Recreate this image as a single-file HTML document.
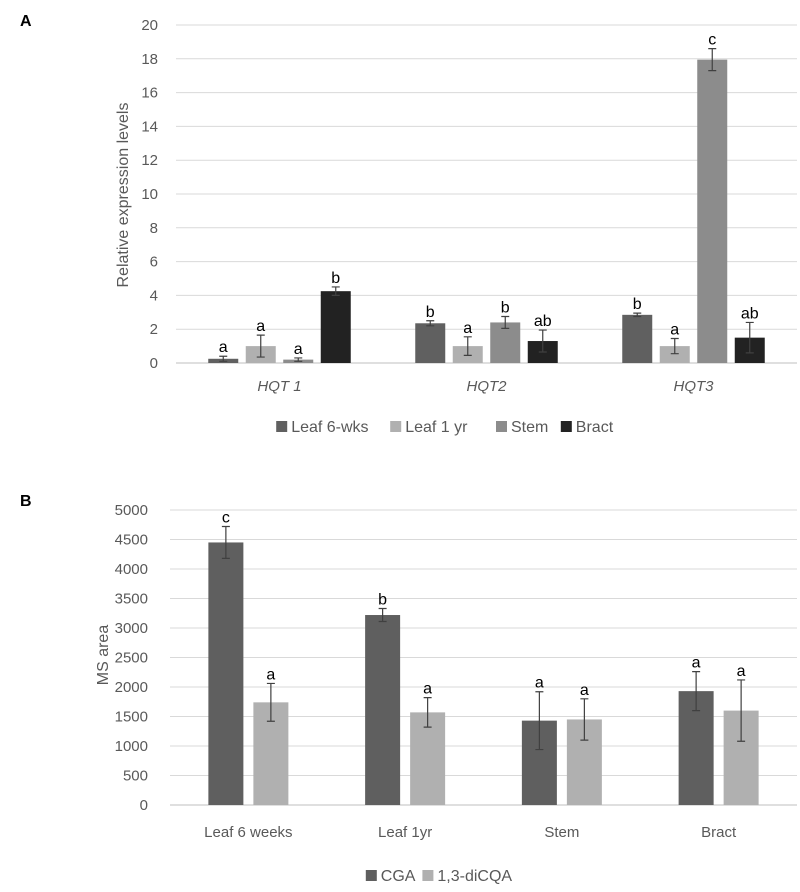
<!DOCTYPE html>
<html><head><meta charset="utf-8"><style>
body{margin:0;background:#fff;font-family:"Liberation Sans",sans-serif;}
svg text{font-family:"Liberation Sans",sans-serif;}
</style></head><body>
<svg id="svg" width="800" height="887" viewBox="0 0 800 887">
<text x="20" y="26" font-size="16" font-weight="bold" fill="#000">A</text>
<text x="20" y="506" font-size="16" font-weight="bold" fill="#000">B</text>
<text transform="translate(128,195) rotate(-90)" text-anchor="middle" font-size="16" fill="#595959">Relative expression levels</text>
<text transform="translate(108,655) rotate(-90)" text-anchor="middle" font-size="16" fill="#595959">MS area</text>
<g id="ga"></g><g id="gb"></g>
</svg>
<script>
const aCats=["HQT 1","HQT2","HQT3"];
const aSeries=["Leaf 6-wks","Leaf 1 yr","Stem","Bract"];
const aLeaf6=[0.25,2.35,2.85];
const aLeaf1=[1.0,1.0,1.0];
const aStem=[0.2,2.4,17.95];
const aBract=[4.25,1.3,1.5];
const aErrLeaf6=[0.15,0.15,0.1];
const aErrLeaf1=[0.65,0.55,0.45];
const aErrStem=[0.1,0.35,0.65];
const aErrBract=[0.25,0.65,0.9];
const aLetLeaf6=["a","b","b"];
const aLetLeaf1=["a","a","a"];
const aLetStem=["a","b","c"];
const aLetBract=["b","ab","ab"];
const aTicks=[0,2,4,6,8,10,12,14,16,18,20];

const bCats=["Leaf 6 weeks","Leaf 1yr","Stem","Bract"];
const bSeries=["CGA","1,3-diCQA"];
const bCGA=[4450,3220,1430,1930];
const bDiCQA=[1740,1570,1450,1600];
const bErrCGA=[270,110,490,330];
const bErrDiCQA=[320,250,350,520];
const bLetCGA=["c","b","a","a"];
const bLetDiCQA=["a","a","a","a"];
const bTicks=[0,500,1000,1500,2000,2500,3000,3500,4000,4500,5000];

const NS="http://www.w3.org/2000/svg";
function mk(p,t,a){const e=document.createElementNS(NS,t);for(const k in a)e.setAttribute(k,a[k]);p.appendChild(e);return e;}

function chart(g,cfg){
  const {left,right,y0,yTop,max,ticks,cats,series,vals,errs,lets,colors,bw,gap,tickRight,italic,catY,legY}=cfg;
  const ys=v=>y0-(v/max)*(y0-yTop);
  const cw=(right-left)/cats.length;
  const xc=i=>left+cw*(i+0.5);
  ticks.forEach(t=>{
    const l=mk(g,"line",{x1:left,x2:right,y1:ys(t),y2:ys(t),stroke:t===0?"#bfbfbf":"#d9d9d9","stroke-width":1});
    
    
    const tx=mk(g,"text",{x:tickRight,y:ys(t)+5,"text-anchor":"end","font-size":15,fill:"#595959"});
    tx.textContent=t;
    
    
  });
  const n=series.length;
  cats.forEach((c,i)=>{
    for(let s=0;s<n;s++){
      const x=xc(i)+(s-(n-1)/2)*gap-bw/2;
      const v=vals[s][i],e=errs[s][i];
      const r=mk(g,"rect",{x:x,y:ys(v),width:bw,height:y0-ys(v),fill:colors[s]});
      
      
      const cx=x+bw/2;
      const eb=mk(g,"path",{d:`M${cx},${ys(v-e)}V${ys(v+e)}M${cx-4},${ys(v+e)}H${cx+4}M${cx-4},${ys(v-e)}H${cx+4}`,stroke:"#404040","stroke-width":1.2,fill:"none"});
      
      
      const lt=mk(g,"text",{x:cx,y:ys(v+e)-4,"text-anchor":"middle","font-size":16,fill:"#000"});
      lt.textContent=lets[s][i];
      
      
    }
    const cl=mk(g,"text",{x:xc(i),y:catY,"text-anchor":"middle","font-size":15,fill:"#595959","font-style":italic?"italic":"normal"});
    cl.textContent=c;
    
    
  });
  const widths=series.map(s=>s.length*8.2+32);
  let tot=widths.reduce((a,b)=>a+b,0);
  let x=cfg.legCx-tot/2;
  series.forEach((s,i)=>{
    const r=mk(g,"rect",{x:x,y:legY-10,width:11,height:11,fill:colors[i]});
    
    
    const t=mk(g,"text",{x:x+15,y:legY+1,"font-size":16,fill:"#595959"});
    t.textContent=s;
    
    
    x+=widths[i];
  });
}
chart(document.getElementById("ga"),{left:176,right:797,y0:363,yTop:25,max:20,ticks:aTicks,cats:aCats,series:aSeries,
  vals:[aLeaf6,aLeaf1,aStem,aBract],errs:[aErrLeaf6,aErrLeaf1,aErrStem,aErrBract],lets:[aLetLeaf6,aLetLeaf1,aLetStem,aLetBract],
  colors:["#606060","#b0b0b0","#8c8c8c","#222222"],bw:30,gap:37.5,tickRight:158,italic:true,catY:391,legY:431,legCx:455});
chart(document.getElementById("gb"),{left:170,right:797,y0:805,yTop:510,max:5000,ticks:bTicks,cats:bCats,series:bSeries,
  vals:[bCGA,bDiCQA],errs:[bErrCGA,bErrDiCQA],lets:[bLetCGA,bLetDiCQA],
  colors:["#5f5f5f","#b0b0b0"],bw:35,gap:45,tickRight:148,italic:false,catY:837,legY:880,legCx:447});
</script>
</body></html>
